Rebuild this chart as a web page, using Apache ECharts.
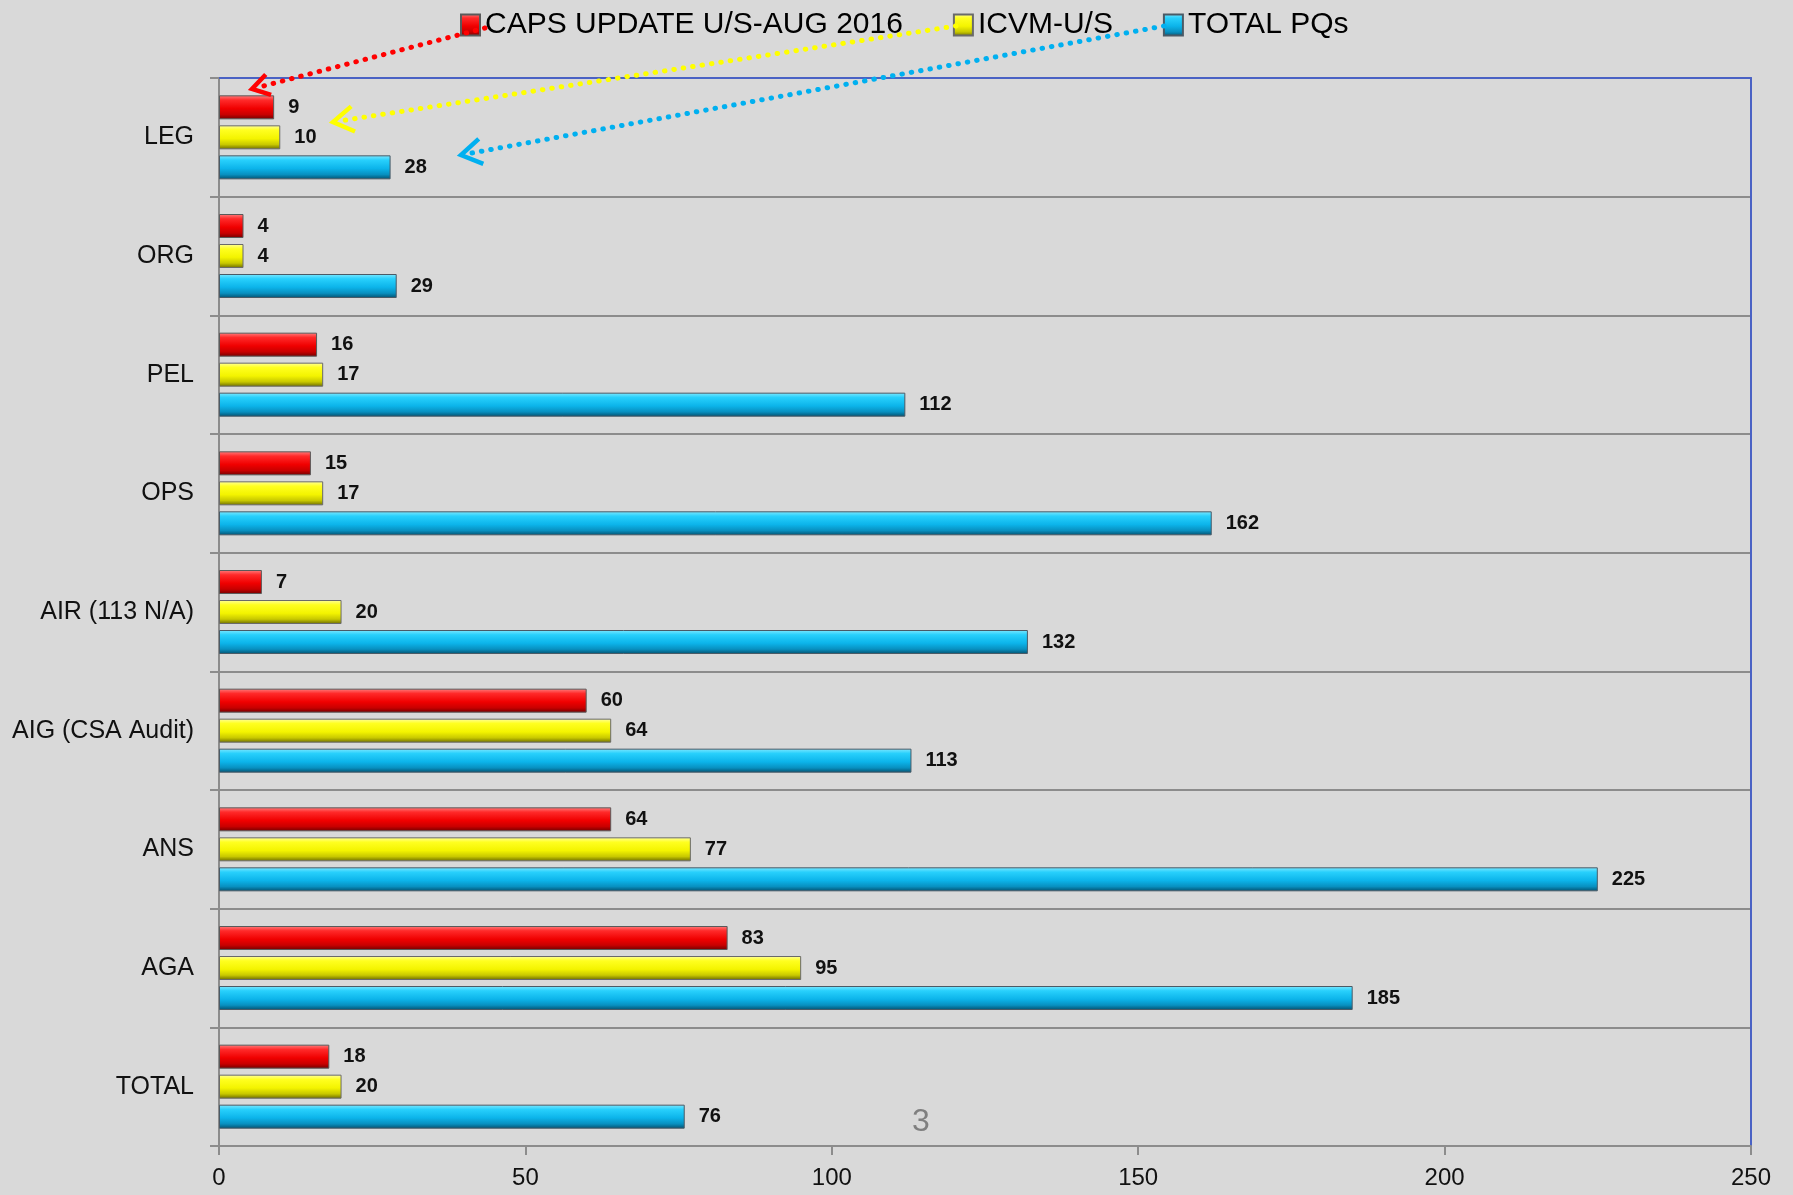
<!DOCTYPE html>
<html>
<head>
<meta charset="utf-8">
<script src="https://cdn.jsdelivr.net/npm/echarts@6/dist/echarts.min.js"></script>
<style>
html,body{margin:0;padding:0;background:#d9d9d9;}
#c{width:1793px;height:1195px;}
</style>
</head>
<body>
<div id="c"></div>
<script>
const categories = ['LEG', 'ORG', 'PEL', 'OPS', 'AIR (113 N/A)', 'AIG (CSA Audit)', 'ANS', 'AGA', 'TOTAL'];
const capsUpdate = [9, 4, 16, 15, 7, 60, 64, 83, 18];
const icvmUS = [10, 4, 17, 17, 20, 64, 77, 95, 20];
const totalPQs = [28, 29, 112, 162, 132, 113, 225, 185, 76];
const seriesNames = ['CAPS UPDATE U/S-AUG 2016', 'ICVM-U/S', 'TOTAL PQs'];
const xTicks = [0, 50, 100, 150, 200, 250];

const FONT = '"Liberation Sans", Arial, sans-serif';
function grad(c0, c1, c2, c3, c4) {
  return new echarts.graphic.LinearGradient(0, 0, 0, 1, [
    {offset: 0, color: c0}, {offset: 0.2, color: c1}, {offset: 0.55, color: c2}, {offset: 0.8, color: c3}, {offset: 1, color: c4}
  ]);
}
const styles = [
  {color: grad('#ff8080', '#ff2a2a', '#f00000', '#c80000', '#700000'), borderColor: '#5a5a5a'},
  {color: grad('#ffffa0', '#ffff20', '#f4f400', '#c8c800', '#6a6a00'), borderColor: '#6a6a6a'},
  {color: grad('#80e8ff', '#28d0fc', '#0cb4ea', '#0890c0', '#03506e'), borderColor: '#4a5a66'}
];
const dataSets = [capsUpdate, icvmUS, totalPQs];

const chart = echarts.init(document.getElementById('c'), null, {renderer: 'canvas'});

function arrow(start, tip, color, len) {
  const dx = start[0] - tip[0], dy = start[1] - tip[1];
  const L = Math.hypot(dx, dy);
  const ux = dx / L, uy = dy / L;
  const a = 32 * Math.PI / 180;
  const r1 = [tip[0] + len * (ux * Math.cos(a) - uy * Math.sin(a)), tip[1] + len * (ux * Math.sin(a) + uy * Math.cos(a))];
  const r2 = [tip[0] + len * (ux * Math.cos(-a) - uy * Math.sin(-a)), tip[1] + len * (ux * Math.sin(-a) + uy * Math.cos(-a))];
  return [
    {type: 'polyline', z: 100, shape: {points: [start, [tip[0] + ux * 6, tip[1] + uy * 6]]},
     style: {stroke: color, lineWidth: 5, lineDash: [0.5, 9], lineCap: 'round', fill: null}},
    {type: 'polyline', z: 100, shape: {points: [r1, tip, r2]},
     style: {stroke: color, lineWidth: 4.5, fill: null, lineJoin: 'miter'}}
  ];
}

const option = {
  backgroundColor: '#d9d9d9',
  animation: false,
  textStyle: {fontFamily: FONT},
  legend: {
    left: 455, top: 5,
    itemWidth: 19, itemHeight: 21, itemGap: 50,
    icon: 'rect',
    textStyle: {fontSize: 30, color: '#000', fontFamily: FONT},
    data: seriesNames
  },
  grid: {left: 219, right: 42, top: 78, bottom: 49, containLabel: false},
  xAxis: [{
    type: 'value', min: 0, max: 250, interval: 50, position: 'bottom',
    axisLine: {show: true, onZero: false, lineStyle: {color: '#8c8c8c', width: 2}},
    axisTick: {show: true, length: 9, lineStyle: {color: '#8c8c8c', width: 2}},
    axisLabel: {fontSize: 24, color: '#111', margin: 20, fontFamily: FONT,
      formatter: v => xTicks.indexOf(v) >= 0 ? String(v) : ''},
    splitLine: {show: false}
  }, {
    type: 'value', min: 0, max: 250, interval: 50, position: 'top',
    axisLine: {show: true, onZero: false, lineStyle: {color: '#4a62c4', width: 2}},
    axisTick: {show: false}, axisLabel: {show: false}, splitLine: {show: false}
  }],
  yAxis: [{
    type: 'category', data: categories, inverse: true, position: 'left',
    axisLine: {show: true, onZero: false, lineStyle: {color: '#8c8c8c', width: 2}},
    axisTick: {show: true, length: 9, interval: 0, lineStyle: {color: '#8c8c8c', width: 2}},
    axisLabel: {fontSize: 25, color: '#111', margin: 25, fontFamily: FONT, interval: 0},
    splitLine: {show: true, interval: 0, lineStyle: {color: '#8c8c8c', width: 2}}
  }, {
    type: 'category', data: categories, inverse: true, position: 'right',
    axisLine: {show: true, onZero: false, lineStyle: {color: '#4a62c4', width: 2}},
    axisTick: {show: false}, axisLabel: {show: false}, splitLine: {show: false}
  }],
  series: seriesNames.map((n, i) => ({
    name: n, type: 'bar', data: dataSets[i], xAxisIndex: 0, yAxisIndex: 0,
    barWidth: 24, barGap: '25%',
    itemStyle: {color: styles[i].color, borderColor: styles[i].borderColor, borderWidth: 1},
    label: {show: true, position: 'right', distance: 14, fontSize: 20, fontWeight: 'bold', color: '#111', fontFamily: FONT}
  })),
  graphic: [
    ...arrow([485, 28], [252, 89], '#ff0000', 20),
    ...arrow([956, 26], [333, 122], '#ffff00', 24),
    ...arrow([1164, 26], [461, 155], '#00b0f0', 24),
    {type: 'text', z: 100, left: 912, top: 1106,
     style: {text: '3', font: '32px ' + FONT, fill: '#7f7f7f'}}
  ]
};
chart.setOption(option);
</script>
</body>
</html>
